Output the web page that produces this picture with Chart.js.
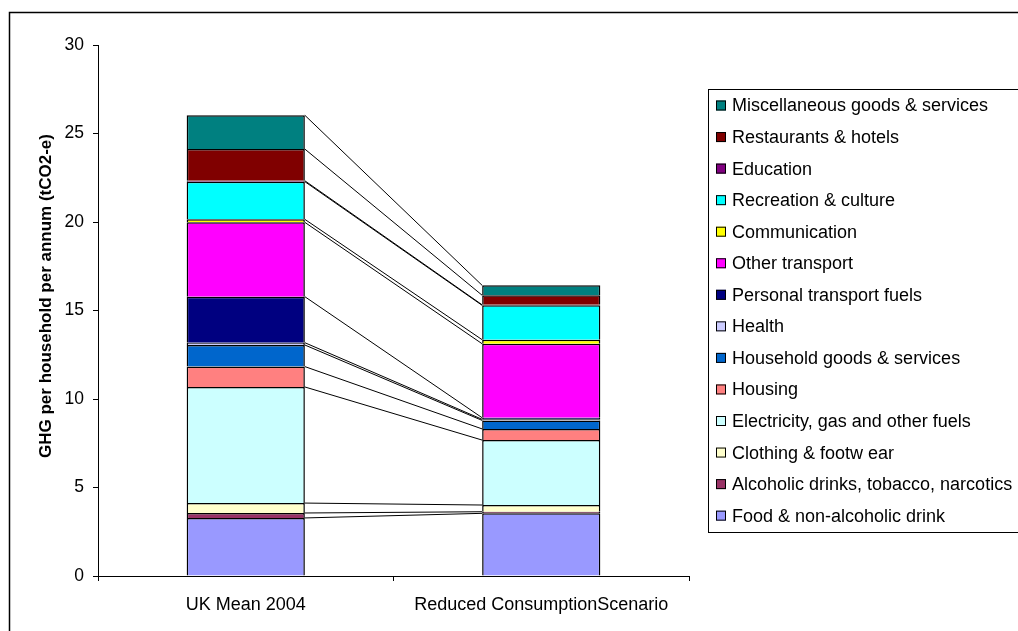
<!DOCTYPE html>
<html lang="en">
<head>
  <meta charset="UTF-8">
  <title>GHG per household</title>
  <script src="https://cdn.jsdelivr.net/npm/chart.js"></script>
  <style>
    body { margin: 0; background: #fff; }
    #wrap { width: 1018px; height: 631px; position: relative; }
  </style>
</head>
<body>
  <div id="wrap">
    <canvas id="ghgChart"></canvas>
  </div>

  <script>
    // scenarios on the x axis
    const scenarios = ['UK Mean 2004', 'Reduced ConsumptionScenario'];

    // spending categories, bottom of the stack first
    const sectors = [
      'Food & non-alcoholic drink',
      'Alcoholic drinks, tobacco, narcotics',
      'Clothing & footw ear',
      'Electricity, gas and other fuels',
      'Housing',
      'Household goods & services',
      'Health',
      'Personal transport fuels',
      'Other transport',
      'Communication',
      'Recreation & culture',
      'Education',
      'Restaurants & hotels',
      'Miscellaneous goods & services'
    ];

    // tCO2-e per household per annum, same order as sectors
    const ukMean2004 = [3.28, 0.28, 0.56, 6.56, 1.15, 1.22, 0.13, 2.60, 4.20, 0.17, 2.13, 0.05, 1.79, 1.91];
    const reducedScenario = [3.54, 0.09, 0.38, 3.67, 0.63, 0.48, 0.06, 0.09, 4.18, 0.23, 1.94, 0.03, 0.54, 0.56];

    const yTicks = [0, 5, 10, 15, 20, 25, 30];

    const colours = [
      '#9999FF', '#993366', '#FFFFCC', '#CCFFFF', '#FF8080', '#0066CC', '#CCCCFF',
      '#000080', '#FF00FF', '#FFFF00', '#00FFFF', '#800080', '#800000', '#008080'
    ];

    const FONT = '"Liberation Sans", Arial, sans-serif';
    Chart.defaults.font.family = FONT;
    Chart.defaults.color = '#000';

    const datasets = sectors.map((name, i) => ({
      label: name,
      data: [ukMean2004[i], reducedScenario[i]],
      backgroundColor: colours[i],
      borderColor: '#000',
      borderWidth: 1.5,
      barPercentage: 0.4,
      categoryPercentage: 1.0
    }));

    // outer frame + y title
    const framePlugin = {
      id: 'frame',
      beforeDraw(chart) {
        const c = chart.ctx;
        c.save();
        c.fillStyle = '#fff';
        c.fillRect(0, 0, chart.width, chart.height);
        c.strokeStyle = '#000';
        c.lineWidth = 1.5;
        c.strokeRect(9.5, 12.5, chart.width + 20, chart.height + 20);
        c.restore();
      },
      afterDraw(chart) {
        const c = chart.ctx;
        c.save();
        c.translate(46, 296);
        c.rotate(-Math.PI / 2);
        c.font = 'bold 17px ' + FONT;
        c.fillStyle = '#000';
        c.textAlign = 'center';
        c.textBaseline = 'middle';
        c.fillText('GHG per household per annum (tCO2-e)', 0, 0);
        c.restore();
      }
    };

    // Excel style series lines between the stacks
    const seriesLines = {
      id: 'seriesLines',
      afterDatasetsDraw(chart) {
        const c = chart.ctx;
        c.save();
        c.strokeStyle = '#000';
        c.lineWidth = 1;
        chart.data.datasets.forEach((ds, i) => {
          const meta = chart.getDatasetMeta(i);
          const a = meta.data[0], b = meta.data[1];
          c.beginPath();
          c.moveTo(a.x + a.width / 2, a.y);
          c.lineTo(b.x - b.width / 2, b.y);
          c.stroke();
        });
        c.restore();
      }
    };

    // boxed legend on the right, top item = top of the stack
    const boxLegend = {
      id: 'boxLegend',
      afterDraw(chart) {
        const c = chart.ctx;
        const left = 708, top = 89, bottom = 532;
        const step = 31.55;
        c.save();
        c.strokeStyle = '#000';
        c.lineWidth = 1;
        c.strokeRect(left + 0.5, top + 0.5, chart.width, bottom - top);
        c.font = '18px ' + FONT;
        c.textBaseline = 'middle';
        const items = chart.data.datasets.slice().reverse();
        items.forEach((ds, k) => {
          const cy = 105.5 + k * step;
          c.fillStyle = ds.backgroundColor;
          c.fillRect(716, cy - 5, 10, 10);
          c.strokeStyle = '#000';
          c.strokeRect(716.5, cy - 4.5, 9, 9);
          c.fillStyle = '#000';
          c.fillText(ds.label, 732, cy + 1);
        });
        c.restore();
      }
    };

    const ctx = document.getElementById('ghgChart').getContext('2d');
    new Chart(ctx, {
      type: 'bar',
      data: { labels: scenarios, datasets: datasets },
      options: {
        responsive: true,
        maintainAspectRatio: false,
        animation: false,
        layout: { padding: { left: 0, top: 45, right: 329, bottom: 0 } },
        plugins: {
          legend: { display: false },
          tooltip: { enabled: false }
        },
        scales: {
          x: {
            stacked: true,
            grid: { display: true, drawOnChartArea: false, color: '#000', tickLength: 5, offset: true },
            border: { display: true, color: '#000', width: 1 },
            ticks: { font: { size: 18 }, padding: 13, maxRotation: 0, autoSkip: false },
            afterFit(scale) { scale.height = 55; }
          },
          y: {
            stacked: true,
            min: 0,
            max: 30,
            afterBuildTicks(scale) { scale.ticks = yTicks.map(v => ({ value: v })); },
            grid: { display: true, drawOnChartArea: false, color: '#000', tickLength: 5 },
            border: { display: true, color: '#000', width: 1 },
            ticks: { font: { size: 17.5 }, padding: 9 },
            afterFit(scale) { scale.width = 98; }
          }
        }
      },
      plugins: [framePlugin, seriesLines, boxLegend]
    });
  </script>
</body>
</html>
